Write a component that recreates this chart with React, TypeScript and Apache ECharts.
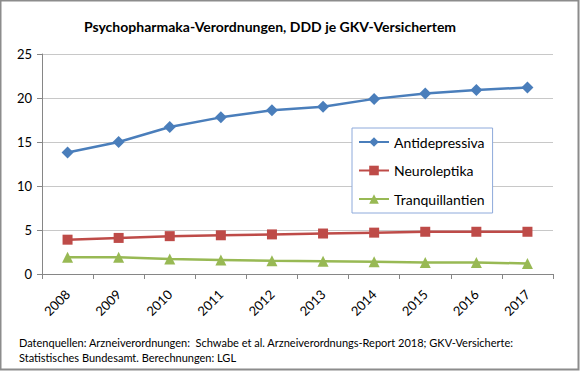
import React, { useEffect, useRef } from "react";
import * as echarts from "echarts";

const years = ["2008", "2009", "2010", "2011", "2012", "2013", "2014", "2015", "2016", "2017"];
const antidepressiva = [13.8, 15.0, 16.7, 17.8, 18.6, 19.0, 19.9, 20.5, 20.9, 21.2];
const neuroleptika = [3.9, 4.1, 4.3, 4.4, 4.5, 4.6, 4.7, 4.8, 4.8, 4.8];
const tranquillantien = [1.9, 1.9, 1.7, 1.6, 1.5, 1.45, 1.4, 1.3, 1.3, 1.2];
const yTicks = { min: 0, max: 25, interval: 5 };
const titleText = "Psychopharmaka-Verordnungen, DDD je GKV-Versichertem";
const footLines = [
  "Datenquellen: Arzneiverordnungen:  Schwabe et al. Arzneiverordnungs-Report 2018; GKV-Versicherte:",
  "Statistisches Bundesamt. Berechnungen: LGL",
];

const FONT = "Lato";

export default function App() {
  const ref = useRef<HTMLDivElement>(null);
  useEffect(() => {
    document.body.style.margin = "0";
    const chart = echarts.init(ref.current!, null, { renderer: "svg" });
    const mk = (name: string, data: number[], color: string, symbol: string, size: number) => ({
      name,
      type: "line",
      data,
      symbol,
      symbolSize: size,
      showSymbol: true,
      lineStyle: { color, width: 2.5 },
      itemStyle: { color },
    });
    chart.setOption({
      animation: false,
      backgroundColor: "#ffffff",
      title: {
        text: titleText,
        left: 265,
        textAlign: "center",
        top: 14,
        textStyle: { fontFamily: FONT, fontSize: 14, fontWeight: "bold", color: "#000" },
      },
      legend: {
        orient: "vertical",
        left: 352,
        top: 128,
        width: 133,
        itemWidth: 30,
        itemHeight: 12,
        itemGap: 14.5,
        padding: [7, 8, 7, 6],
        borderColor: "#8eaadb",
        borderWidth: 1,
        backgroundColor: "#fff",
        textStyle: { fontFamily: FONT, fontSize: 14, color: "#000" },
        data: ["Antidepressiva", "Neuroleptika", "Tranquillantien"],
      },
      grid: { left: 42, right: 27, top: 54, bottom: 97, containLabel: false },
      xAxis: {
        type: "category",
        data: years,
        boundaryGap: true,
        axisLine: { show: true, lineStyle: { color: "#868686", width: 1 } },
        axisTick: { show: true, alignWithLabel: false, length: 5, lineStyle: { color: "#868686" } },
        axisLabel: {
          rotate: 45,
          margin: 18,
          fontFamily: FONT,
          fontSize: 13,
          color: "#000",
        },
      },
      yAxis: {
        type: "value",
        min: yTicks.min,
        max: yTicks.max,
        interval: yTicks.interval,
        axisLine: { show: true, lineStyle: { color: "#868686", width: 1 } },
        axisTick: { show: true, length: 5, lineStyle: { color: "#868686" } },
        splitLine: { show: true, lineStyle: { color: "#c8c8c8", width: 1 } },
        axisLabel: { margin: 10, fontFamily: FONT, fontSize: 13, color: "#000" },
      },
      graphic: [
        {
          type: "rect",
          shape: { x: 0.5, y: 0.5, width: 578, height: 369 },
          style: { fill: "none", stroke: "#8c8c8c", lineWidth: 2 },
          silent: true,
        },
        {
          type: "text",
          left: 19,
          top: 335,
          style: {
            text: footLines.join("\n"),
            fontFamily: FONT,
            fontSize: 11,
            lineHeight: 15,
            fill: "#000",
          },
        },
      ],
      series: [
        mk("Antidepressiva", antidepressiva, "#4a7ebb", "diamond", 12),
        mk("Neuroleptika", neuroleptika, "#be4b48", "rect", 10),
        mk("Tranquillantien", tranquillantien, "#98b954", "triangle", 11),
      ],
    });
    return () => chart.dispose();
  }, []);
  return <div ref={ref} style={{ width: 580, height: 371 }} />;
}
